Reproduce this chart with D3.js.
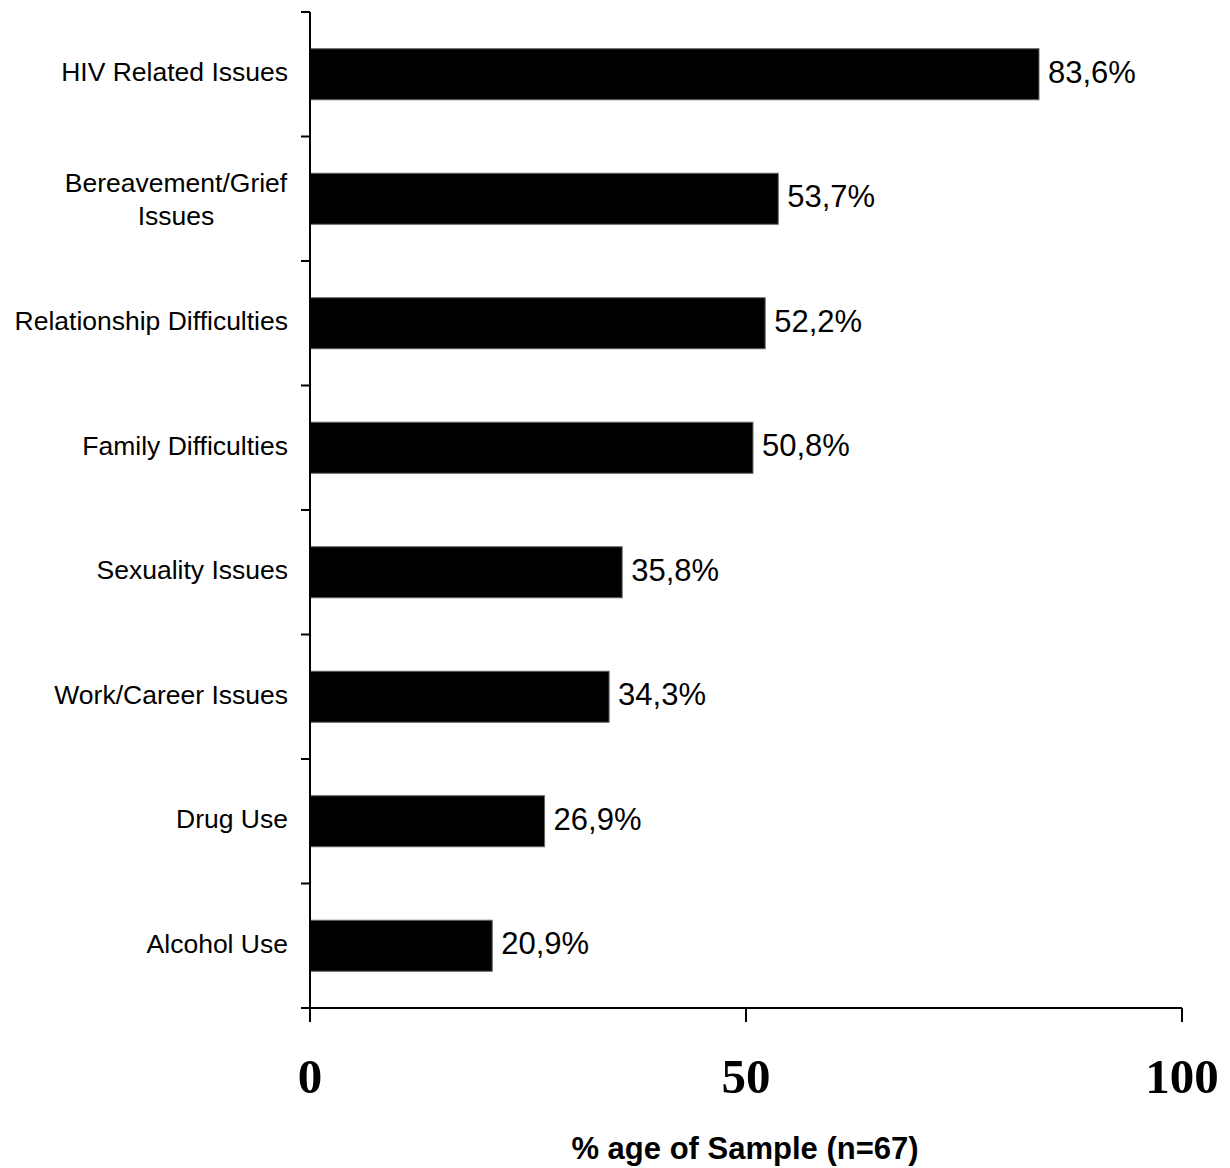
<!DOCTYPE html>
<html>
<head>
<meta charset="utf-8">
<script src="https://cdn.jsdelivr.net/npm/d3@7"></script>
<style>
  html, body { margin: 0; padding: 0; background: #fff; }
  svg { display: block; }
</style>
</head>
<body>
<svg id="chart" width="1230" height="1168"></svg>
<script>
// Issues raised by clients, share of the sample
const categories = [
  ["HIV Related Issues"],
  ["Bereavement/Grief", "Issues"],
  ["Relationship Difficulties"],
  ["Family Difficulties"],
  ["Sexuality Issues"],
  ["Work/Career Issues"],
  ["Drug Use"],
  ["Alcohol Use"]
];
const values = [83.6, 53.7, 52.2, 50.8, 35.8, 34.3, 26.9, 20.9];
const valueLabels = ["83,6%", "53,7%", "52,2%", "50,8%", "35,8%", "34,3%", "26,9%", "20,9%"];
const xTicks = [0, 50, 100];
const xTitle = "% age of Sample (n=67)";

const svg = d3.select("#chart");
const plotLeft = 310, plotRight = 1182, plotTop = 12, plotBottom = 1008;

const x = d3.scaleLinear().domain([0, 100]).range([plotLeft, plotRight]);
const y = d3.scaleBand()
  .domain(d3.range(categories.length))
  .range([plotTop, plotBottom])
  .paddingInner(0.59)
  .paddingOuter(0.295);

// Bars
svg.append("g").selectAll("rect")
  .data(values)
  .join("rect")
  .attr("x", x(0))
  .attr("y", (d, i) => y(i))
  .attr("width", d => x(d) - x(0))
  .attr("height", y.bandwidth())
  .attr("fill", "#000")
  .attr("stroke", "#666")
  .attr("stroke-width", 1);

// Value labels
svg.append("g").selectAll("text")
  .data(values)
  .join("text")
  .attr("x", d => x(d) + 9)
  .attr("y", (d, i) => y(i) + y.bandwidth() / 2 - 2.5)
  .attr("dy", "0.35em")
  .attr("font-family", "Liberation Sans, Arial, sans-serif")
  .attr("font-size", 31)
  .attr("fill", "#000")
  .text((d, i) => valueLabels[i]);

// Y axis: line plus ticks at band boundaries
const yAxis = svg.append("g");
yAxis.append("line")
  .attr("x1", plotLeft).attr("x2", plotLeft)
  .attr("y1", plotTop).attr("y2", plotBottom + 14)
  .attr("stroke", "#000").attr("stroke-width", 2);
yAxis.selectAll("line.tick")
  .data(d3.range(categories.length + 1))
  .join("line")
  .attr("class", "tick")
  .attr("x1", plotLeft - 9).attr("x2", plotLeft)
  .attr("y1", i => plotTop + i * (plotBottom - plotTop) / categories.length)
  .attr("y2", i => plotTop + i * (plotBottom - plotTop) / categories.length)
  .attr("stroke", "#000").attr("stroke-width", 2);

// Category labels
const labelG = svg.append("g")
  .attr("font-family", "Liberation Sans, Arial, sans-serif")
  .attr("font-size", 26.5)
  .attr("fill", "#000");
categories.forEach((lines, i) => {
  const cy = y(i) + y.bandwidth() / 2;
  const t = labelG.append("text");
  if (lines.length === 1) {
    t.attr("x", 288).attr("y", cy - 2.5).attr("dy", "0.35em")
      .attr("text-anchor", "end").text(lines[0]);
  } else {
    const lh = 33;
    lines.forEach((ln, k) => {
      t.append("tspan")
        .attr("x", 176)
        .attr("y", cy + (k - (lines.length - 1) / 2) * lh)
        .attr("dy", "0.35em")
        .attr("text-anchor", "middle")
        .text(ln);
    });
  }
});

// X axis
const xAxis = svg.append("g");
xAxis.append("line")
  .attr("x1", plotLeft - 9).attr("x2", plotRight)
  .attr("y1", plotBottom).attr("y2", plotBottom)
  .attr("stroke", "#000").attr("stroke-width", 2);
xAxis.selectAll("line.tick")
  .data(xTicks)
  .join("line")
  .attr("class", "tick")
  .attr("x1", d => x(d)).attr("x2", d => x(d))
  .attr("y1", plotBottom).attr("y2", plotBottom + 14)
  .attr("stroke", "#000").attr("stroke-width", 2);
xAxis.selectAll("text")
  .data(xTicks)
  .join("text")
  .attr("x", d => x(d))
  .attr("y", 1093)
  .attr("text-anchor", "middle")
  .attr("font-family", "Liberation Serif, Times New Roman, serif")
  .attr("font-weight", "bold")
  .attr("font-size", 49)
  .attr("fill", "#000")
  .text(d => d);

// X axis title
svg.append("text")
  .attr("x", 745)
  .attr("y", 1159)
  .attr("text-anchor", "middle")
  .attr("font-family", "Liberation Sans, Arial, sans-serif")
  .attr("font-weight", "bold")
  .attr("font-size", 31)
  .attr("fill", "#000")
  .text(xTitle);
</script>
</body>
</html>
